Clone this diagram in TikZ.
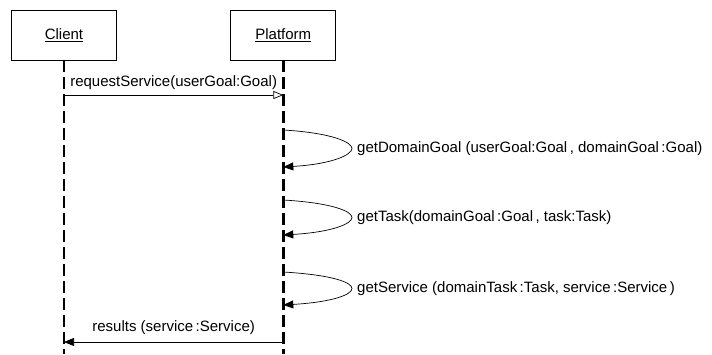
\documentclass[tikz,border=0pt]{standalone}
\usepackage{fontspec}
\setmainfont{Liberation Sans}
\usetikzlibrary{arrows.meta,positioning}
\tikzstyle{object}=[draw,line width=0.8pt,minimum width=105pt,minimum height=50pt,inner sep=0pt]
\tikzstyle{lifeline}=[line width=2.6pt,dash pattern=on 12pt off 5pt]
\tikzstyle{call}=[line width=0.7pt,-{Triangle[open,length=10pt,width=8pt]}]
\tikzstyle{reply}=[line width=0.7pt,-{Triangle[length=10pt,width=8pt]}]
\tikzstyle{selfcall}=[line width=0.7pt,-{Triangle[length=10pt,width=8pt]}]
\tikzstyle{msgtext}=[inner sep=0pt,anchor=west]

\begin{document}
\begin{tikzpicture}[x=1pt,y=1pt,font=\fontsize{15}{17}\selectfont]
  \useasboundingbox (0,0) rectangle (712,354);
  \node[object]	(client) at (64,319) {\underline{Client}};
  \node[object]	(platform) [right=113.5pt of client] {\underline{Platform}};

  % lifelines
  \coordinate (clientend) at (client.south |- 0,0);
  \coordinate (platformend) at (platform.south |- 0,0);
  \draw[lifeline] (client.south) -- (clientend);
  \draw[lifeline] (platform.south) -- (platformend);

  % message points
  \coordinate (req1) at (client.south |- 0,259);
  \coordinate (req2) at (platform.south |- 0,259);
  \coordinate (dg1) at (platform.south |- 0,224);
  \coordinate (dg2) at (platform.south |- 0,187);
  \coordinate (dgtip) at (352,205.5);
  \coordinate (gt1) at (platform.south |- 0,154);
  \coordinate (gt2) at (platform.south |- 0,119);
  \coordinate (gttip) at (352,136.5);
  \coordinate (gs1) at (platform.south |- 0,82);
  \coordinate (gs2) at (platform.south |- 0,49);
  \coordinate (gstip) at (352,65.5);
  \coordinate (res1) at (platform.south |- 0,12);
  \coordinate (res2) at (client.south |- 0,12);

  \draw[call] (req1) -- node[above=5pt,inner sep=0pt] (reqtext) {requestService(userGoal:Goal)} (req2);
  \draw[selfcall] (dg1) .. controls +(50,-3) and +(0,6) .. (dgtip) .. controls +(0,-6) and +(50,3) .. (dg2);
  \draw[selfcall] (gt1) .. controls +(50,-3) and +(0,6) .. (gttip) .. controls +(0,-6) and +(50,3) .. (gt2);
  \draw[selfcall] (gs1) .. controls +(50,-3) and +(0,6) .. (gstip) .. controls +(0,-6) and +(50,3) .. (gs2);
  \draw[reply] (res1) -- node[above=7pt,inner sep=0pt] (restext) {results (service\,:Service)} (res2);

  \node[msgtext] (dgtext) [right=5pt of dgtip] {getDomainGoal (userGoal:Goal\,, domainGoal\,:Goal)};
  \node[msgtext] (gttext) [right=5pt of gttip] {getTask(domainGoal\,:Goal\,, task:Task)};
  \node[msgtext] (gstext) [right=5pt of gstip] {getService (domainTask\,:Task, service\,:Service\,)};
\end{tikzpicture}
\end{document}
